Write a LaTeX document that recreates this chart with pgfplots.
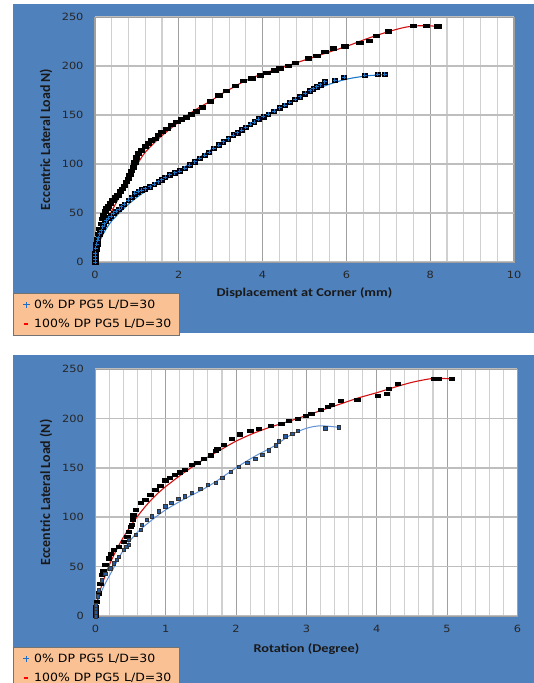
\documentclass[border=0pt]{standalone}
\usepackage{fontspec}
\setmainfont{DejaVu Sans}
\newfontfamily\tickfont[FakeStretch=1.14]{DejaVu Sans}
\newfontfamily\legfont[FakeStretch=1.1]{DejaVu Sans}
\newfontfamily\titlefont[FakeStretch=1.2]{Carlito}
\newfontfamily\ylabfont{Carlito}
\usepackage{pgfplots}
\pgfplotsset{compat=1.18}
\definecolor{bgblue}{RGB}{79,129,189}
\definecolor{peach}{RGB}{250,194,148}
\definecolor{trendblueA}{RGB}{30,120,200}
\definecolor{trendblueB}{RGB}{95,145,215}
\definecolor{trendred}{RGB}{210,16,16}
\definecolor{mkblue}{RGB}{40,90,160}
\definecolor{majg}{RGB}{160,160,160}
\definecolor{ming}{RGB}{208,208,208}
\definecolor{hg}{RGB}{190,190,190}
\definecolor{legblue}{RGB}{30,110,200}

\pgfplotstableread{
x y
0 0
0 3
0 6
0.01 9
0.02 13
0.04 18
0.06 23
0.08 29
0.11 34
0.14 39
0.17 44
0.2 48
0.24 52
0.28 55
0.32 57
0.37 60
0.42 63
0.48 66
0.54 68
0.6 72
0.65 75
0.7 78
0.75 82
0.79 85
0.83 89
0.87 93
0.91 97
0.95 102
0.99 107
1.04 111
1.11 114
1.19 118
1.27 121
1.35 124
1.43 126
1.51 130
1.59 133
1.71 136
1.83 140
1.95 143
2.06 146
2.18 148
2.3 151
2.42 154
2.55 158
2.75 164
2.95 170
3.14 175
3.34 180
3.54 185
3.74 187.4
3.94 190.8
4.1 193.2
4.29 196
4.41 198
4.61 200.3
4.77 203.4
5.09 207.8
5.29 210.5
5.48 214.6
5.68 218
5.96 220.4
6.32 223.8
6.54 225.9
6.71 231
6.99 235.7
7.59 241.2
7.9 241.2
8.18 240.8
}\topred

\pgfplotstableread{
x y
0 10
0.1 22
0.2 33
0.3 43
0.4 52
0.5 60
0.6 68
0.7 76
0.8 84
0.9 92
1.0 99
1.1 106
1.2 112
1.4 121
1.6 129
1.8 136
2.0 143
2.25 151
2.5 158
2.75 164
3.0 171
3.25 177
3.5 183
3.75 188
4.0 192
4.5 199
5.0 206
5.5 213
6.0 220
6.5 228
7.0 235
7.4 239.5
7.7 241
8.0 241
8.2 240
}\topredtrend

\pgfplotstableread{
x y
0 0
0 3
0 6
0 9
0.02 14
0.04 18
0.06 22
0.08 25
0.11 29
0.14 32
0.18 36
0.22 39
0.27 42
0.32 45
0.38 47
0.44 50
0.5 52
0.57 54
0.63 56.5
0.7 59
0.79 63
0.87 66
0.95 70
1.03 72
1.11 73.5
1.2 75
1.31 77
1.41 79.5
1.51 82
1.59 84
1.67 86.4
1.78 89
1.9 91
2.02 93
2.14 95.6
2.26 99
2.38 102.4
2.5 106
2.62 109
2.72 112
2.83 116
2.95 119.5
3.06 122.8
3.18 126
3.3 129.6
3.4 132
3.5 134.7
3.6 137.5
3.7 140.5
3.8 143
3.9 146
4.02 148.5
4.13 151
4.27 154
4.41 157.5
4.53 160
4.65 163
4.77 166
4.89 168.7
5.01 172
5.13 174.8
5.21 177
5.29 178.9
5.38 181
5.48 184
5.72 185.7
5.94 188.4
6.44 190.8
6.75 191.5
6.91 191.5
}\topblue

\pgfplotstableread{
x y
0 8
0.1 20
0.2 29
0.3 36
0.4 42
0.6 51
0.8 59
1.0 66
1.2 72
1.5 80
1.75 86
2.0 93
2.5 107
3.0 121
3.5 134.5
4.0 147.5
4.5 159.5
5.0 170.5
5.5 180
6.0 186.5
6.5 190
6.9 191
}\topbluetrend

\pgfplotstableread{
x y
0 0
0 3
0 6
0 9
0.02 14.4
0.05 23
0.07 33
0.09 41.5
0.11 46
0.14 51.7
0.19 58.5
0.22 63
0.26 67
0.33 70.3
0.4 75.4
0.45 80
0.47 85.6
0.5 90
0.52 92.4
0.53 98
0.54 102.5
0.57 107.6
0.64 114.4
0.71 117.8
0.78 122.9
0.85 128
0.92 132
0.99 137.5
1.06 140
1.13 143.2
1.2 145.5
1.27 148.3
1.37 153.4
1.45 155.4
1.54 159.5
1.64 162.8
1.71 167.2
1.73 169.6
1.82 173.6
1.94 179.7
2.05 184.1
2.2 187.2
2.32 189.9
2.49 192.6
2.64 194.9
2.75 197.6
2.88 200
2.99 202.7
3.07 205.1
3.2 209.1
3.3 211.8
3.36 214.2
3.49 217.6
3.72 219.3
4.01 222.6
4.14 225
4.17 229.7
4.3 234.8
4.81 240
4.88 240
5.07 240
}\botred

\pgfplotstableread{
x y
0 10
0.05 22
0.1 33
0.15 43
0.2 52
0.3 67
0.4 80
0.5 91
0.6 101
0.7 110
0.8 118
0.9 125
1.0 131
1.2 142
1.4 152
1.6 161
1.8 169
2.0 177
2.25 185
2.5 191.5
2.75 197
3.0 203
3.25 209
3.5 215
3.75 221
4.0 226
4.25 231.5
4.5 236.5
4.75 240
4.9 240.5
5.07 240
}\botredtrend

\pgfplotstableread{
x y
0 0
0 4
0 8
0 11
0.03 20
0.05 26
0.09 36.4
0.14 43
0.21 48.3
0.26 53.4
0.3 57
0.33 60.2
0.4 67
0.44 70
0.47 72
0.47 77
0.57 82.2
0.64 87.3
0.66 92.4
0.73 97.5
0.8 101
0.9 106
0.99 111
1.08 114.4
1.18 118.5
1.27 121.2
1.37 124.6
1.49 128.6
1.6 133
1.71 135.1
1.8 139.9
1.92 146
2.04 151
2.16 155
2.27 159.5
2.37 163.5
2.46 168
2.56 173
2.61 177
2.7 182
2.8 184.8
2.88 187.5
3.27 189.9
3.46 190.9
}\botblue

\pgfplotstableread{
x y
0 8
0.05 18
0.1 27
0.17 37
0.24 46
0.35 61
0.47 74
0.6 85
0.8 97
1.0 107.5
1.28 119
1.5 127
1.7 135.5
2.0 150
2.25 161
2.54 172
2.77 183
3.0 190
3.2 192.5
3.46 191
}\botbluetrend

\pgfplotsset{
  panel/.style={
    scale only axis, anchor=south west, clip=false,
    ymin=0, ymax=250, ytick={0,50,...,250},
    axis background/.style={fill=white},
    axis line style={draw=majg, line width=1bp},
    major tick length=0pt, minor tick length=0pt,
    xmajorgrids, ymajorgrids, xminorgrids, minor x tick num=4,
    major x grid style={draw=majg, line width=1.1bp},
    minor x grid style={draw=ming, line width=1.1bp},
    major y grid style={draw=hg, line width=1.5bp},
    /pgf/number format/assume math mode=true,
    ticklabel style={font=\tickfont\fontsize{10}{12}\selectfont, text=black!85},
    yticklabel style={xshift=-8bp},
    xticklabel style={yshift=-6bp},
    xlabel style={font=\titlefont\bfseries\fontsize{12}{14}\selectfont, text=black!90, anchor=center},
    ylabel style={font=\ylabfont\bfseries\fontsize{14}{16}\selectfont, text=black!90, anchor=center},
    legend style={anchor=north west, fill=peach, draw=black!55, line width=0.8bp,
      font=\legfont\fontsize{11.4}{13}\selectfont, inner xsep=6bp, inner ysep=4.5bp,
      row sep=5bp, cells={anchor=west}},
    legend cell align=left,
    legplus/.style={legend image code/.code={%
      \path (0bp,-3bp) (12bp,3bp);
      \draw[draw=legblue, fill=none, line width=1.1bp] (6.5bp,-3.2bp)--(6.5bp,3.2bp) (3.3bp,0bp)--(9.7bp,0bp);}},
    legdash/.style={legend image code/.code={%
      \path (0bp,-3bp) (12bp,3bp);
      \draw[draw=red, fill=none, line width=1.8bp] (4bp,0bp)--(8.5bp,0bp);}},
  }
}

\begin{document}
\begin{tikzpicture}
\useasboundingbox (0,0) rectangle (534bp,-683bp);
\fill[bgblue] (13bp,-4bp) rectangle (534bp,-333bp);
\fill[bgblue] (13bp,-355bp) rectangle (534bp,-683bp);

\begin{axis}[panel, at={(95bp,-262bp)}, width=419bp, height=245bp,
  xmin=0, xmax=10, xtick={0,2,...,10},
  xlabel={Displacement at Corner (mm)},
  ylabel={Eccentric Lateral Load N)},
  xlabel style={at={(axis description cs:0.5,-0.1265)}},
  ylabel style={at={(axis description cs:-0.117,0.5)}},
  legend style={at={(axis description cs:-0.1957,-0.1265)}},
]
\addlegendimage{legplus}
\addlegendimage{legdash}
\addlegendentry{0\% DP PG5 L/D=30}
\addlegendentry{100\% DP PG5 L/D=30}
\addplot[forget plot, only marks, mark=square*, mark size=2.4bp, mark options={fill=black, draw=black, xscale=1.3, yscale=0.75}] table[x=x,y=y] {\topred};
\addplot[forget plot, only marks, mark=square*, mark size=2.3bp, mark options={fill=black!85!blue, draw=black}] table[x=x,y=y] {\topblue};
\addplot[forget plot, only marks, mark=+, mark size=2bp, mark options={draw=trendblueA, line width=0.7bp}] table[x=x,y=y] {\topblue};
\addplot[forget plot, trendblueA, line width=1.1bp, smooth] table[x=x,y=y] {\topbluetrend};
\addplot[forget plot, trendred, line width=1.1bp, smooth] table[x=x,y=y] {\topredtrend};
\end{axis}

\begin{axis}[panel, at={(95.4bp,-616bp)}, width=422bp, height=247bp,
  xmin=0, xmax=6, xtick={0,1,...,6},
  xlabel={Rotation (Degree)},
  ylabel={Eccentric Lateral Load (N)},
  xlabel style={at={(axis description cs:0.5,-0.1336)}},
  ylabel style={at={(axis description cs:-0.117,0.5)}},
  legend style={at={(axis description cs:-0.1953,-0.1255)}},
]
\addlegendimage{legplus}
\addlegendimage{legdash}
\addlegendentry{0\% DP PG5 L/D=30}
\addlegendentry{100\% DP PG5 L/D=30}
\addplot[forget plot, only marks, mark=square*, mark size=2bp, mark options={fill=black, draw=black, xscale=1.35, yscale=0.8}] table[x=x,y=y] {\botred};
\addplot[forget plot, only marks, mark=square*, mark size=1.7bp, mark options={fill=mkblue, draw=black!80}] table[x=x,y=y] {\botblue};
\addplot[forget plot, trendblueB, line width=1bp, smooth] table[x=x,y=y] {\botbluetrend};
\addplot[forget plot, trendred, line width=1.1bp, smooth] table[x=x,y=y] {\botredtrend};
\end{axis}
\end{tikzpicture}
\end{document}
